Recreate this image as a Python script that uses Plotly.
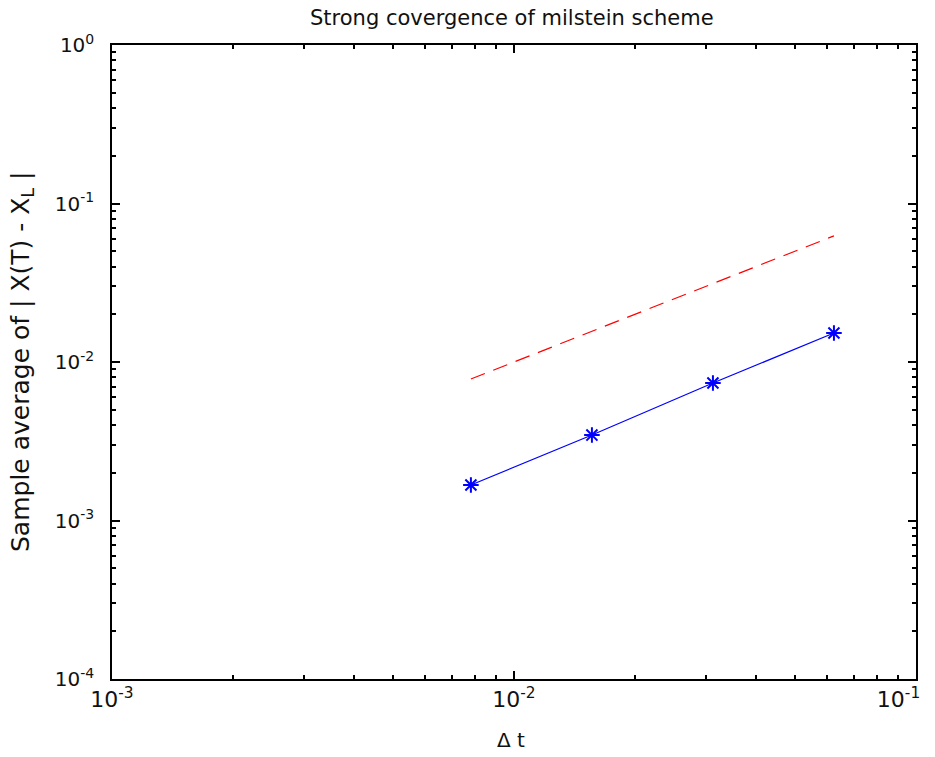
import plotly.graph_objects as go

# Data
dt = [0.0078125, 0.015625, 0.03125, 0.0625]
err_milstein = [1.675e-3, 3.46e-3, 7.37e-3, 1.524e-2]
ref_line = [0.0078125, 0.015625, 0.03125, 0.0625]

x_major = [1e-3, 1e-2, 1e-1]
x_major_text = ["10<sup>-3</sup>", "10<sup>-2</sup>", "10<sup>-1</sup>" + "\u00a0" * 5]
y_major = [1e-4, 1e-3, 1e-2, 1e-1, 1e0]
y_major_text = ["10<sup>-4</sup>", "10<sup>-3</sup>", "10<sup>-2</sup>", "10<sup>-1</sup>", "10<sup>0</sup>"]

title_text = "Strong covergence of milstein scheme"
xlabel_text = "Δ t"
ylabel_text = "Sample average of | X(T) - X<sub>L</sub> |"

def minors(lo, hi):
    out = []
    d = lo
    while d < hi:
        for k in range(2, 10):
            out.append(k * d)
        d *= 10
    return out

FONT = "DejaVu Sans, Liberation Sans, Arial, sans-serif"

fig = go.Figure()
fig.add_trace(go.Scatter(x=dt, y=ref_line, mode="lines",
                         line=dict(color="#ff0000", width=1.2, dash="15px,9px"),
                         showlegend=False))
fig.add_trace(go.Scatter(x=dt, y=err_milstein, mode="lines+markers",
                         line=dict(color="#0000ff", width=1.2),
                         marker=dict(symbol="asterisk-open", size=13,
                                     line=dict(color="#0000ff", width=2)),
                         showlegend=False))

axis_common = dict(
    type="log", showgrid=False, zeroline=False, automargin=False,
    showline=True, linecolor="black", linewidth=1.5, mirror="ticks",
    ticks="inside", ticklen=8, tickwidth=1.5, tickcolor="black",
    ticklabeloverflow="allow",
)

fig.update_layout(
    width=935, height=757,
    margin=dict(l=112, r=19, t=45, b=78),
    paper_bgcolor="white", plot_bgcolor="white",
    xaxis=dict(**axis_common,
               tickfont=dict(family=FONT, size=22, color="#111111"),
               range=[-3, -1], tickmode="array", tickvals=x_major, ticktext=x_major_text,
               minor=dict(tickmode="array", tickvals=minors(1e-3, 1e-1), ticks="inside",
                          ticklen=4, tickwidth=1.5, tickcolor="black", showgrid=False)),
    yaxis=dict(**axis_common,
               tickfont=dict(family=FONT, size=20, color="#111111"),
               range=[-4, 0], tickmode="array", tickvals=y_major, ticktext=y_major_text,
               ticklabelstandoff=12,
               minor=dict(tickmode="array", tickvals=minors(1e-4, 1e0), ticks="inside",
                          ticklen=4, tickwidth=1.5, tickcolor="black", showgrid=False)),
    annotations=[
        dict(text=title_text, xref="paper", yref="paper", x=0.4975, y=1,
             xanchor="center", yanchor="middle", yshift=27, showarrow=False,
             font=dict(family=FONT, size=21, color="#111111")),
        dict(text=xlabel_text, xref="paper", yref="paper", x=0.496, y=0,
             xanchor="center", yanchor="middle", yshift=-61, showarrow=False,
             font=dict(family=FONT, size=20, color="#111111")),
        dict(text=ylabel_text, xref="paper", yref="paper", x=0, y=0.5, textangle=-90,
             xanchor="center", yanchor="middle", xshift=-90, showarrow=False,
             font=dict(family=FONT, size=25, color="#111111")),
    ],
)

fig.write_html("out.html")
